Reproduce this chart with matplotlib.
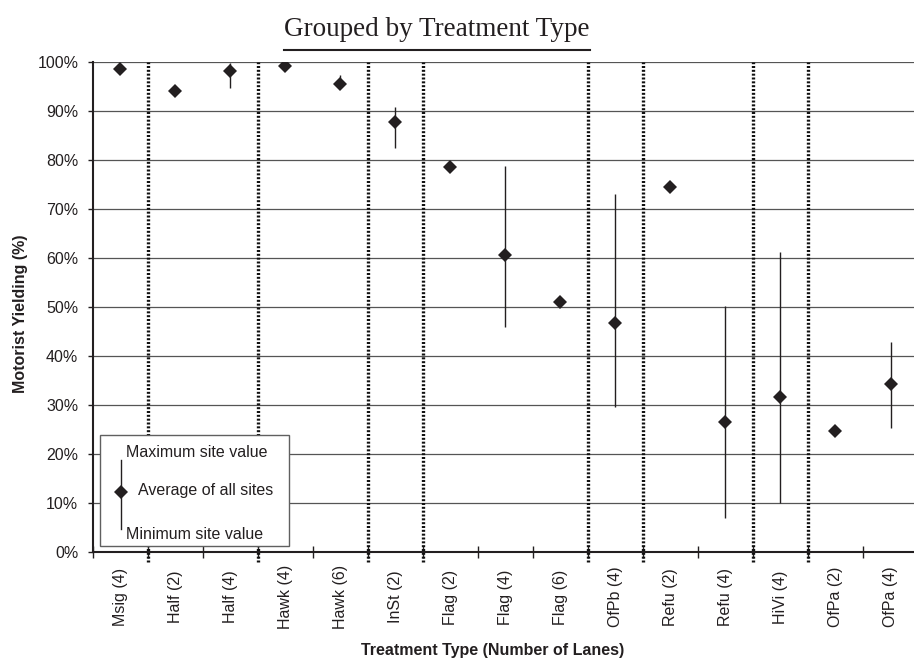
"""Motorist yielding by treatment type: average of all sites with the
minimum and maximum site values drawn as a vertical range.

Run::

    python plot.py
"""
import matplotlib

matplotlib.use("Agg")  # no display in the sandbox

import matplotlib.pyplot as plt
from matplotlib.lines import Line2D
from matplotlib.patches import Rectangle
from matplotlib.ticker import FixedLocator, PercentFormatter

TREATMENTS = [
    "Msig (4)", "Half (2)", "Half (4)", "Hawk (4)", "Hawk (6)", "InSt (2)",
    "Flag (2)", "Flag (4)", "Flag (6)", "OfPb (4)", "Refu (2)", "Refu (4)",
    "HiVi (4)", "OfPa (2)", "OfPa (4)",
]
AVERAGE = [98.6, 94.1, 98.2, 99.2, 95.5, 87.7, 78.7, 60.6, 51.1, 46.8, 74.6, 26.4, 31.7, 24.7, 34.2]
MAXIMUM = [98.6, 94.1, 99.8, 99.2, 97.4, 90.9, 78.7, 78.9, 51.1, 73.1, 74.6, 50.3, 61.3, 24.7, 42.9]
MINIMUM = [98.6, 94.1, 94.7, 99.2, 94.8, 82.4, 78.7, 45.9, 51.1, 29.5, 74.6, 6.8, 10.0, 24.7, 25.3]
# first treatment of each new group; a dotted divider is drawn in front of it
GROUP_STARTS = [1, 3, 5, 6, 9, 10, 12, 13]
Y_TICKS = list(range(0, 101, 10))

INK = "#231f20"
GRID = "#555555"
SANS = "Liberation Sans"
SERIF = "Liberation Serif"
FS = 11.5


def _draw_key(ax) -> None:
    """Boxed key in the lower-left corner explaining the range marks."""
    box = Rectangle((0.0089, 0.0117), 0.229, 0.2268, transform=ax.transAxes,
                    facecolor="white", edgecolor="#606060", lw=1.0, zorder=6)
    ax.add_patch(box)
    ax.add_line(Line2D([0.0339, 0.0339], [0.0458, 0.1874], transform=ax.transAxes,
                       color=INK, lw=1.0, zorder=7))
    ax.add_line(Line2D([0.0339], [0.1226], transform=ax.transAxes, marker="D",
                       ms=7, color=INK, mew=0, ls="none", zorder=8))
    kw = dict(transform=ax.transAxes, va="center", ha="left", fontsize=FS,
              family=SANS, color=INK, zorder=8)
    ax.text(0.040, 0.2017, "Maximum site value", **kw)
    ax.text(0.0545, 0.1246, "Average of all sites", **kw)
    ax.text(0.040, 0.0341, "Minimum site value", **kw)


def main() -> int:
    fig = plt.figure(figsize=(9.14, 6.63), dpi=100)
    ax = fig.add_axes([0.1014, 0.1679, 0.903, 0.7382])

    x = list(range(len(TREATMENTS)))
    ax.vlines(x, MINIMUM, MAXIMUM, color=INK, lw=1.0, zorder=3)
    ax.plot(x, AVERAGE, ls="none", marker="D", ms=7.3, color=INK, mew=0, zorder=4)

    ax.set_xlim(-0.5, len(TREATMENTS) - 0.5)
    ax.set_ylim(0, 100)

    # y axis: percent ticks with horizontal grid
    ax.yaxis.set_major_locator(FixedLocator(Y_TICKS))
    ax.yaxis.set_major_formatter(PercentFormatter(decimals=0))
    ax.grid(axis="y", color=GRID, lw=0.9)
    ax.set_axisbelow(True)
    ax.tick_params(axis="y", direction="out", length=3.8, width=1.0, color=INK,
                   pad=6.5, labelsize=FS, labelcolor=INK)
    for lbl in ax.get_yticklabels():
        lbl.set_family(SANS)

    # x axis: crossing ticks on the category boundaries, labels at centres
    ax.set_xticks([i - 0.5 for i in x])
    ax.set_xticklabels([])
    ax.set_xticks(x, labels=TREATMENTS, minor=True, rotation=90, va="center",
                  ha="center", fontsize=FS, family=SANS, color=INK)
    ax.tick_params(axis="x", which="major", direction="inout", length=8,
                   width=1.0, color=INK)
    ax.tick_params(axis="x", which="minor", length=0, pad=32.6)

    for side in ("top", "right"):
        ax.spines[side].set_visible(False)
    for side in ("left", "bottom"):
        ax.spines[side].set_color(INK)
        ax.spines[side].set_linewidth(1.5)
        ax.spines[side].set_zorder(5)

    # dotted dividers between treatment groups, running just past the axis
    for g in GROUP_STARTS:
        ax.axvline(g - 0.5, ymin=-0.0204, ymax=1, color="#111111", lw=2.4,
                   ls=(0, (0.6, 0.55)), clip_on=False, zorder=2)

    ax.set_ylabel("Motorist Yielding (%)", fontsize=FS, fontweight="bold",
                  family=SANS, color=INK, va="center")
    ax.yaxis.set_label_coords(-0.0870, 0.4857)
    ax.set_xlabel("Treatment Type (Number of Lanes)", fontsize=FS,
                  fontweight="bold", family=SANS, color=INK, va="center")
    ax.xaxis.set_label_coords(0.484, -0.2009)

    _draw_key(ax)

    title = fig.text(437 / 914, 1 - 30 / 663, "Grouped by Treatment Type",
                     ha="center", va="center", family=SERIF, fontsize=19.5,
                     color=INK)
    fig.canvas.draw()
    bb = title.get_window_extent()
    w = fig.bbox.width
    y_line = 1 - 49.5 / 663
    fig.add_artist(Line2D([bb.x0 / w, bb.x1 / w], [y_line, y_line],
                          transform=fig.transFigure, color=INK, lw=1.5))

    fig.savefig("out.png", dpi=100)
    plt.close(fig)
    return 0


if __name__ == "__main__":
    raise SystemExit(main())
